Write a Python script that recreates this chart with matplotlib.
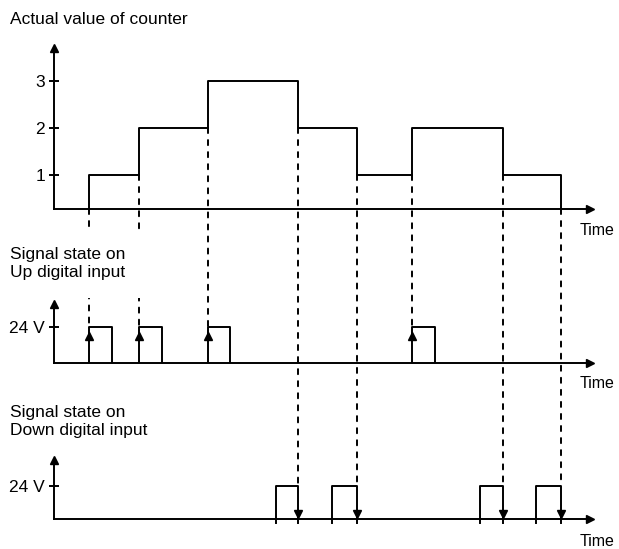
import matplotlib
matplotlib.use("Agg")
import matplotlib.pyplot as plt
from matplotlib.patches import ConnectionPatch

plt.rcParams['font.family'] = ['Liberation Sans', 'DejaVu Sans']

# counter value over time (step changes)
counter_t = [0, 35, 85, 154, 244, 303, 358, 449, 507, 536]
counter_v = [0, 1, 2, 3, 2, 1, 2, 1, 0, 0]
counter_ticks = [1, 2, 3]

# Up input pulses: rising edge time, pulse width
up_t = [35, 85, 154, 358]
up_w = [23, 23, 22, 23]

# Down input pulses: falling edge time, pulse width
down_t = [244, 303, 449, 507]
down_w = [22, 25, 23, 25]

high = 24
t_max = 536

W, H = 619, 549
lw = 1.4
dash = (0, (2.6, 3.6))


def box(x0, y0, x1, y1):
    return [x0 / W, 1 - y1 / H, (x1 - x0) / W, (y1 - y0) / H]


def style_axis(ax, ylim, ticks, labels, time_dy):
    ax.set_xlim(0, t_max)
    ax.set_ylim(*ylim)
    for s in ['top', 'right']:
        ax.spines[s].set_visible(False)
    for s in ['left', 'bottom']:
        ax.spines[s].set_linewidth(lw)
    ax.set_xticks([])
    ax.set_yticks(ticks)
    ax.set_yticklabels(labels)
    ax.tick_params(axis='y', direction='inout', length=7, width=lw, labelsize=12.5, pad=3)
    ax.patch.set_alpha(0)
    ax.plot(0, 1, '^', ms=6, color='k', transform=ax.transAxes, clip_on=False)
    ax.plot(1, 0, '>', ms=6, color='k', transform=ax.transAxes, clip_on=False)
    ax.annotate('Time', xy=(1, 0), xycoords='axes fraction', xytext=(-10, time_dy),
                textcoords='offset pixels', ha='left', va='center', fontsize=11.5)


fig = plt.figure(figsize=(W / 100, H / 100), dpi=100)

ax0 = fig.add_axes(box(54, 48, 590, 209))
ax1 = fig.add_axes(box(54, 304, 590, 363))
ax2 = fig.add_axes(box(54, 460, 590, 519))

y0_lo = 1 - 34 / 47
style_axis(ax0, (y0_lo, 1 + 127 / 47), counter_ticks, [str(v) for v in counter_ticks], -21)
style_axis(ax1, (0, 59 / 1.5), [high], ['24 V'], -21)
style_axis(ax2, (0, 59 / 1.375), [high], ['24 V'], -23)

ax0.step(counter_t, counter_v, where='post', color='k', lw=lw)

for t, w in zip(up_t, up_w):
    ax1.plot([t, t, t + w, t + w], [0, high, high, 0], color='k', lw=lw)
    ax1.plot(t, 17.7, '^', ms=6, color='k')

for t, w in zip(down_t, down_w):
    ax2.plot([t - w, t - w, t, t], [-3, high, high, -3], color='k', lw=lw, clip_on=False)
    ax2.plot(t, 3.8, 'v', ms=6, color='k')

# dashed guide lines from counter steps down to the input edges
for times, target in [(up_t, ax1), (down_t, ax2)]:
    for t in times:
        i = counter_t.index(t)
        lo = max(min(counter_v[i - 1], counter_v[i]), y0_lo)
        con = ConnectionPatch(xyA=(t, lo), coordsA='data', axesA=ax0,
                              xyB=(t, high), coordsB='data', axesB=target,
                              color='k', lw=lw, linestyle=dash, zorder=2)
        fig.add_artist(con)

fig.text(10 / W, 1 - 20 / H, 'Actual value of counter', fontsize=12.5, va='center', ha='left')
box_style = dict(boxstyle='square,pad=1.0', fc='white', ec='none')
fig.text(10 / W, 1 - 264 / H, 'Signal state on\nUp digital input', fontsize=12.5,
         va='center', ha='left', linespacing=1.25, bbox=box_style, zorder=5)
fig.text(10 / W, 1 - 422 / H, 'Signal state on\nDown digital input', fontsize=12.5,
         va='center', ha='left', linespacing=1.25, bbox=box_style, zorder=5)

fig.savefig('out.png', dpi=100)
